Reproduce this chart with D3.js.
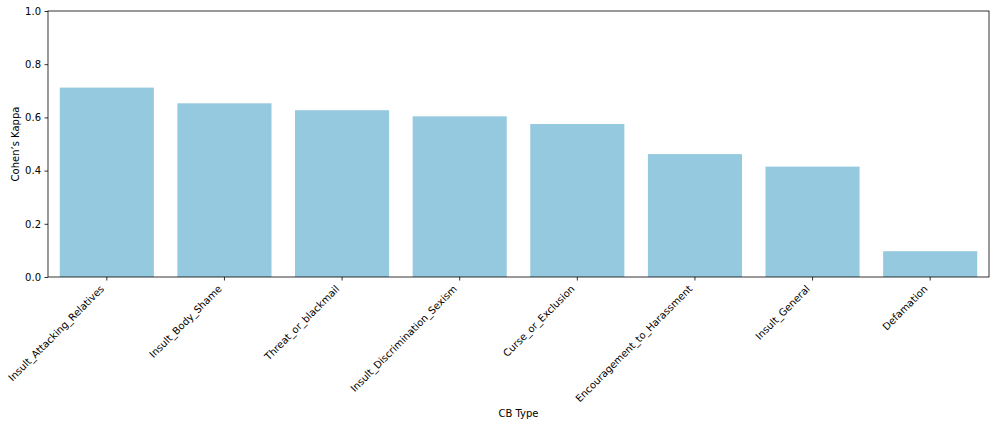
<!DOCTYPE html>
<html><head><meta charset="utf-8">
<script src="https://cdn.jsdelivr.net/npm/d3@7"></script>
<style>body{margin:0;background:#fff}svg{display:block}text{font-family:"DejaVu Sans",sans-serif;fill:#000}</style>
</head><body>
<script>
const categories = ["Insult_Attacking_Relatives","Insult_Body_Shame","Threat_or_blackmail","Insult_Discrimination_Sexism","Curse_or_Exclusion","Encouragement_to_Harassment","Insult_General","Defamation"];
const kappa = [0.712, 0.653, 0.627, 0.604, 0.575, 0.462, 0.415, 0.097];
const yTicks = [0, 0.2, 0.4, 0.6, 0.8, 1.0];

const W = 996, H = 426;
const m = {left: 48, right: 7, top: 11, bottom: 149};
const svg = d3.select("body").append("svg").attr("width", W).attr("height", H);
const x = d3.scaleBand().domain(categories).range([m.left, W - m.right]).paddingInner(0.2).paddingOuter(0.1);
const y = d3.scaleLinear().domain([0, 1]).range([H - m.bottom, m.top]);

svg.append("g").selectAll("rect").data(categories).join("rect")
  .attr("x", d => x(d)).attr("width", x.bandwidth())
  .attr("y", (d, i) => y(kappa[i])).attr("height", (d, i) => y(0) - y(kappa[i]))
  .attr("fill", "rgb(148,201,223)");

// y axis
const ya = svg.append("g").attr("transform", `translate(${m.left},0)`)
  .call(d3.axisLeft(y).tickValues(yTicks).tickFormat(d3.format(".1f")).tickSize(3.5).tickPadding(3.5));
ya.select(".domain").remove();
ya.selectAll("line").attr("stroke", "#000").attr("stroke-width", 0.8);
ya.selectAll("text").attr("font-size", 10).attr("font-family", "DejaVu Sans");

// x axis
const xa = svg.append("g").attr("transform", `translate(0,${H - m.bottom})`)
  .call(d3.axisBottom(x).tickSize(3.5).tickSizeOuter(0));
xa.select(".domain").remove();
xa.selectAll("line").attr("stroke", "#000").attr("stroke-width", 0.8);
xa.selectAll("text")
  .attr("font-size", 10).attr("font-family", "DejaVu Sans")
  .attr("text-anchor", "end").attr("dy", null).attr("y", null)
  .attr("transform", "translate(-2,12.5) rotate(-45)");

// spines
svg.append("rect").attr("x", m.left).attr("y", m.top)
  .attr("width", W - m.right - m.left).attr("height", H - m.bottom - m.top)
  .attr("fill", "none").attr("stroke", "#000").attr("stroke-width", 0.8);

svg.append("text").attr("x", (m.left + W - m.right) / 2).attr("y", 417)
  .attr("text-anchor", "middle").attr("font-size", 10).text("CB Type");
svg.append("text").attr("transform", `translate(19,${(m.top + H - m.bottom) / 2}) rotate(-90)`)
  .attr("text-anchor", "middle").attr("font-size", 10).text("Cohen\u2019s Kappa");
</script>
</body></html>
